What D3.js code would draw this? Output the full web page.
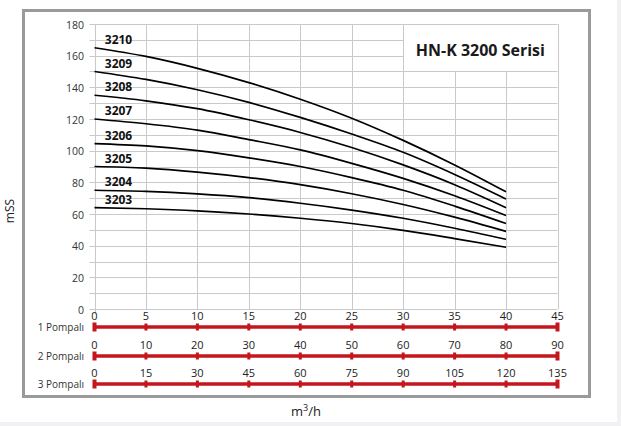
<!DOCTYPE html>
<html>
<head>
<meta charset="utf-8">
<script src="https://cdn.jsdelivr.net/npm/d3@7"></script>
<style>
  body { margin: 0; background: #fff; }
  text { font-family: "Open Sans", sans-serif; }
</style>
</head>
<body>
<div id="chart"></div>
<script>
// flow values (m3/h, 1 pump) and head values (mSS)
const flow = [0, 5, 10, 15, 20, 25, 30, 35, 40];
const pumps = ["3210", "3209", "3208", "3207", "3206", "3205", "3204", "3203"];
const h3210 = [165, 159.5, 152, 143, 132.5, 120.5, 106.5, 91, 74];
const h3209 = [150, 145, 138.5, 130.5, 121, 110.5, 99, 85, 69.5];
const h3208 = [135, 131.5, 126.5, 119.5, 111.5, 102, 91, 78.5, 64];
const h3207 = [120, 117, 113, 107, 100.5, 92, 82.5, 71.5, 59];
const h3206 = [104.5, 103, 100, 95.5, 90, 83, 75, 65, 54];
const h3205 = [90, 89, 86.5, 83, 78.5, 72.8, 66, 58, 49];
const h3204 = [75, 74.3, 72.7, 70.3, 66.8, 62.5, 57.3, 51, 44];
const h3203 = [64, 63.3, 62, 60, 57.3, 54, 49.7, 44.5, 39];
const heads = [h3210, h3209, h3208, h3207, h3206, h3205, h3204, h3203];

const yTicks = [0, 20, 40, 60, 80, 100, 120, 140, 160, 180];
const xTicks1 = [0, 5, 10, 15, 20, 25, 30, 35, 40, 45];
const xTicks2 = [0, 10, 20, 30, 40, 50, 60, 70, 80, 90];
const xTicks3 = [0, 15, 30, 45, 60, 75, 90, 105, 120, 135];
const rowNames = ["1 Pompalı", "2 Pompalı", "3 Pompalı"];
const title = "HN-K 3200 Serisi";

const width = 621, height = 426;
const red = "#c4161c";

const svg = d3.select("#chart").append("svg")
  .attr("width", width)
  .attr("height", height);

// page strips and frame
svg.append("rect").attr("x", 617).attr("y", 0).attr("width", 4).attr("height", height).attr("fill", "#f1f1f3");
svg.append("rect").attr("x", 0).attr("y", 422).attr("width", width).attr("height", 4).attr("fill", "#f1f1f3");
svg.append("rect")
  .attr("x", 23.5).attr("y", 10.5)
  .attr("width", 566).attr("height", 386)
  .attr("fill", "#fff")
  .attr("stroke", "#9a9a9a")
  .attr("stroke-width", 3);

const x = d3.scaleLinear().domain([0, 45]).range([94.5, 557.5]);
const y = d3.scaleLinear().domain([0, 180]).range([309, 24]);

// grid
const grid = svg.append("g").attr("stroke", "#c9c9c9").attr("stroke-width", 1);
for (let v = 0; v <= 180; v += 10) {
  grid.append("line")
    .attr("x1", x(0) - 5).attr("x2", x(45))
    .attr("y1", Math.round(y(v)) + 0.5).attr("y2", Math.round(y(v)) + 0.5);
}
xTicks1.forEach(v => {
  grid.append("line")
    .attr("x1", Math.round(x(v)) + 0.5).attr("x2", Math.round(x(v)) + 0.5)
    .attr("y1", y(180)).attr("y2", y(0) + (v === 0 ? 5 : 0));
});

// title box hides the grid behind it
svg.append("rect")
  .attr("x", Math.round(x(30)) + 1).attr("y", Math.round(y(180)) + 1)
  .attr("width", Math.round(x(45)) - Math.round(x(30)) - 1)
  .attr("height", Math.round(y(150)) - Math.round(y(180)) - 1)
  .attr("fill", "#fff");
svg.append("text")
  .attr("x", (x(30) + x(45)) / 2).attr("y", 56)
  .attr("text-anchor", "middle")
  .style("font-size", "16px").style("font-weight", "bold")
  .attr("fill", "#1a1a1a")
  .text(title);

// y tick labels
yTicks.forEach(v => {
  svg.append("text")
    .attr("x", 84).attr("y", y(v) + 1)
    .attr("dy", "0.35em")
    .attr("text-anchor", "end")
    .style("font-size", "10.5px")
    .attr("fill", "#333")
    .text(v);
});

svg.append("text")
  .attr("transform", "translate(14,211) rotate(-90)")
  .attr("text-anchor", "middle")
  .style("font-size", "12px")
  .attr("fill", "#222")
  .text("mSS");

// curves
const line = d3.line()
  .x((d, i) => x(flow[i]))
  .y(d => y(d))
  .curve(d3.curveMonotoneX);

for (let i = 0; i < pumps.length; i++) {
  svg.append("path")
    .attr("d", line(heads[i]))
    .attr("fill", "none")
    .attr("stroke", "#000")
    .attr("stroke-width", 1.7);
  svg.append("text")
    .attr("x", x(1)).attr("y", y(heads[i][0]) - 4)
    .style("font-size", "12px").style("font-weight", "bold")
    .attr("fill", "#111")
    .text(pumps[i]);
}

// flow scales for 1, 2 and 3 pumps
const rows = [xTicks1, xTicks2, xTicks3];
const rowY = [327, 356, 384];
for (let r = 0; r < rows.length; r++) {
  const ticks = rows[r];
  const s = d3.scaleLinear().domain([0, ticks[ticks.length - 1]]).range([x(0), x(45)]);
  const by = rowY[r];
  svg.append("text")
    .attr("x", 84).attr("y", by)
    .attr("dy", "0.35em")
    .attr("text-anchor", "end")
    .style("font-size", "10px")
    .attr("fill", "#333")
    .text(rowNames[r]);
  svg.append("line")
    .attr("x1", s(0)).attr("x2", s(ticks[ticks.length - 1]))
    .attr("y1", by).attr("y2", by)
    .attr("stroke", red).attr("stroke-width", 3.5);
  ticks.forEach((v, j) => {
    const end = j === 0 || j === ticks.length - 1;
    svg.append("rect")
      .attr("x", s(v) - (end ? 2 : 1.5)).attr("y", by - (end ? 4.5 : 3.5))
      .attr("width", end ? 4 : 3).attr("height", end ? 9 : 7)
      .attr("fill", red);
    svg.append("text")
      .attr("x", s(v)).attr("y", by - 11)
      .attr("dy", "0.35em")
      .attr("text-anchor", "middle")
      .style("font-size", "11px")
      .attr("fill", "#222")
      .text(v);
  });
}

// unit
const unit = svg.append("text")
  .attr("x", 306).attr("y", 416)
  .attr("text-anchor", "middle")
  .style("font-size", "13px")
  .attr("fill", "#222");
unit.append("tspan").text("m");
unit.append("tspan").attr("dy", -5).style("font-size", "9px").text("3");
unit.append("tspan").attr("dy", 5).text("/h");
</script>
</body>
</html>
